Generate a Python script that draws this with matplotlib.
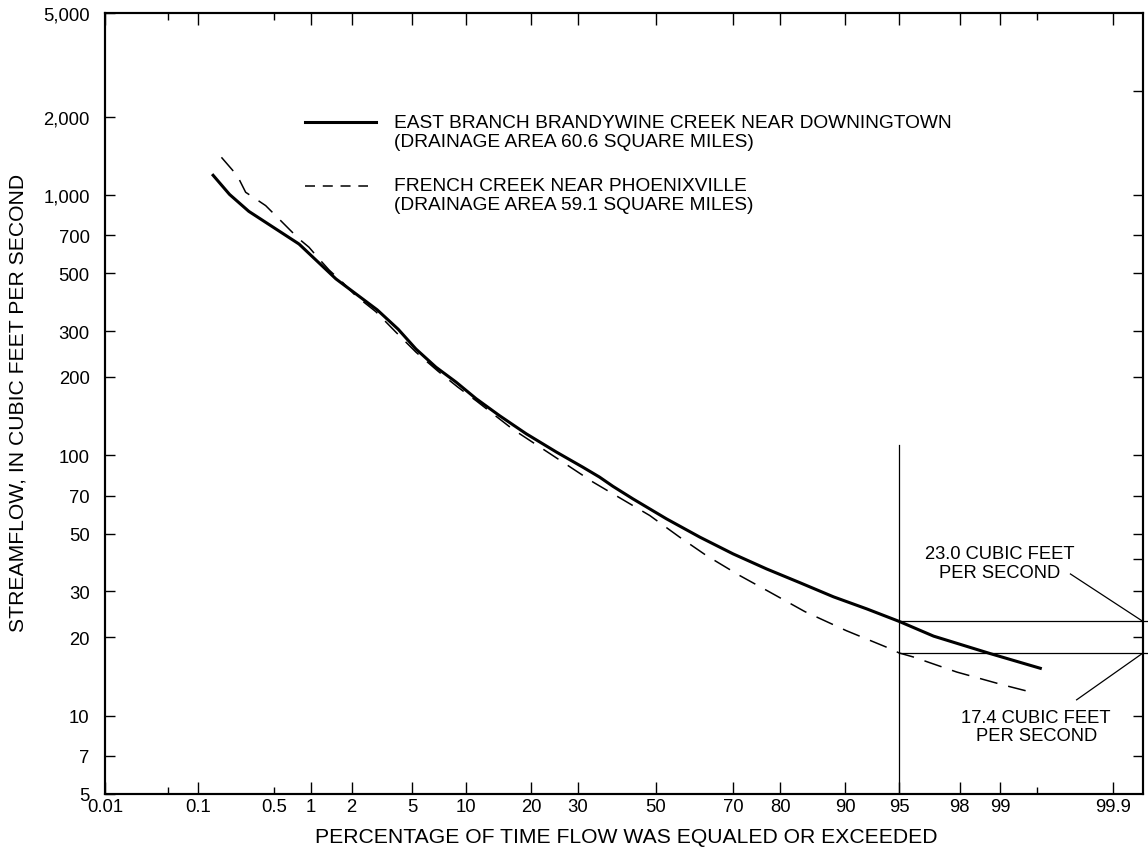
import math

import numpy as np
import matplotlib

matplotlib.use("Agg")
import matplotlib.pyplot as plt
from matplotlib.ticker import FixedLocator, FixedFormatter, NullLocator


# percent of time flow equaled or exceeded, streamflow in cubic feet per second
EAST_PCT = [0.14, 0.20, 0.30, 0.80, 1.54, 3.0, 4.1, 5.27, 6.89, 8.88,
            11.26, 14.57, 19.08, 25.08, 31.14, 35.2, 38.63, 43.9, 52.9,
            61.7, 69.95, 77.3, 83.5, 88.5, 92.3, 95.0, 96.97, 98.81, 99.53]
EAST_FLOW = [1190, 1005, 865, 648, 476, 362, 305, 256, 218, 191,
             165, 142, 121, 103, 90, 82.5, 76.0, 68.0, 57.0,
             48.5, 41.8, 36.6, 32.4, 28.6, 25.7, 23.0, 20.2, 17.3, 15.2]

FRENCH_PCT = [0.168, 0.236, 0.281, 0.345, 0.422, 0.548, 0.664, 0.80, 0.96,
              1.15, 1.37, 1.72, 2.14, 2.94, 3.97, 5.27, 7.04, 9.05, 11.26,
              16.7, 24.35, 33.6, 48.4, 56.4, 63.4, 71.5, 77.97, 84.3, 90.1,
              94.07, 95.0, 95.9, 97.9, 99.06, 99.48]
FRENCH_FLOW = [1395, 1186, 1024, 966, 910, 809, 740, 678, 630,
               568, 515, 462, 410, 356, 297, 249, 211, 183, 162,
               126, 99.8, 78.9, 58.7, 48.5, 41.2, 34.5, 29.8, 25.1, 21.2,
               18.3, 17.4, 16.8, 14.7, 13.1, 12.2]

X_MAJOR = [0.01, 0.1, 1, 2, 5, 10, 20, 30, 50, 70, 80, 90, 95, 98, 99, 99.9]
X_MAJOR_LABELS = ["0.01", "0.1", "1", "2", "5", "10", "20", "30", "50",
                  "70", "80", "90", "95", "98", "99", "99.9"]
X_MINOR = [0.05, 0.5, 99.5]
X_MINOR_LABELS = ["", "0.5", ""]

Y_TICKS = [5, 7, 10, 20, 30, 50, 70, 100, 200, 300, 500, 700,
           1000, 2000, 5000]
Y_LABELS = ["5", "7", "10", "20", "30", "50", "70", "100", "200", "300",
            "500", "700", "1,000", "2,000", "5,000"]
RIGHT_TICKS = [7, 10, 20, 30, 40, 50, 70, 100, 200, 300, 500, 700,
               1000, 2500]

EAST_Q95 = 23.0
FRENCH_Q95 = 17.4

FONT = ["Liberation Sans", "DejaVu Sans"]


A = [-3.969683028665376e+01, 2.209460984245205e+02, -2.759285104469687e+02,
     1.383577518672690e+02, -3.066479806614716e+01, 2.506628277459239e+00]
B = [-5.447609879822406e+01, 1.615858368580409e+02, -1.556989798598866e+02,
     6.680131188771972e+01, -1.328068155288572e+01]
C = [-7.784894002430293e-03, -3.223964580411365e-01, -2.400758277161838e+00,
     -2.549671348440397e+00, 4.374664141464968e+00, 2.938163982698783e+00]
D = [7.784695709041462e-03, 3.224671290700398e-01, 2.445134137142996e+00,
     3.754408661907416e+00]


def norm_ppf(p):
    p = np.asarray(p, dtype=float)
    q = p - 0.5
    r = q * q
    central = ((((((A[0] * r + A[1]) * r + A[2]) * r + A[3]) * r + A[4]) * r
                + A[5]) * q
               / (((((B[0] * r + B[1]) * r + B[2]) * r + B[3]) * r + B[4])
                  * r + 1))
    t = np.sqrt(-2 * np.log(np.minimum(p, 1 - p)))
    tail = ((((((C[0] * t + C[1]) * t + C[2]) * t + C[3]) * t + C[4]) * t
             + C[5])
            / ((((D[0] * t + D[1]) * t + D[2]) * t + D[3]) * t + 1))
    tail = np.where(p < 0.5, tail, -tail)
    return np.where(np.abs(q) <= 0.5 - 0.02425, central, tail)


_erf = np.vectorize(math.erf)


def pct_to_z(pct):
    p = np.clip(np.asarray(pct, dtype=float) / 100.0, 1e-12, 1 - 1e-12)
    return norm_ppf(p)


def z_to_pct(z):
    z = np.asarray(z, dtype=float)
    return 50.0 * (1 + _erf(z / math.sqrt(2)))


def plot_chart():

    plt.rcParams["font.family"] = FONT
    plt.rcParams["lines.scale_dashes"] = False

    fig = plt.figure(figsize=(11.48, 8.54), dpi=100)
    ax = fig.add_axes([0.09146, 0.06909, 0.90418, 0.91452])

    ax.set_xscale("function", functions=(pct_to_z, z_to_pct))
    ax.set_yscale("log")
    ax.set_xlim(0.01, 99.95)
    ax.set_ylim(5, 5000)

    ax.plot(EAST_PCT, EAST_FLOW, color="black", lw=2.2,
            solid_joinstyle="round", zorder=3)
    ax.plot(FRENCH_PCT, FRENCH_FLOW, color="black", lw=1.1,
            dashes=(13, 8), zorder=3)

    # reference lines at 95 percent
    ax.plot([95, 95], [5, 110], color="black", lw=0.9, zorder=2)
    ax.plot([95, 99.956], [EAST_Q95, EAST_Q95], color="black", lw=0.9,
            clip_on=False, zorder=2)
    ax.plot([95, 99.956], [FRENCH_Q95, FRENCH_Q95], color="black", lw=0.9,
            clip_on=False, zorder=2)

    # leaders and notes
    ax.plot([99.745, 99.95], [35.0, EAST_Q95], color="black", lw=0.9,
            clip_on=False)
    ax.plot([99.776, 99.95], [11.5, FRENCH_Q95], color="black", lw=0.9,
            clip_on=False)
    ax.text(98.99, 38.6, "23.0 CUBIC FEET\nPER SECOND", fontsize=13.2,
            ha="center", va="center", multialignment="center",
            linespacing=1.15)
    ax.text(99.49, 9.1, "17.4 CUBIC FEET\nPER SECOND", fontsize=13.2,
            ha="center", va="center", multialignment="center",
            linespacing=1.1)

    # key
    ax.plot([0.1927, 0.2611], [0.8604, 0.8604], color="black", lw=2.2,
            transform=ax.transAxes)
    ax.plot([0.1927, 0.2534], [0.7785, 0.7785], color="black", lw=1.1,
            dashes=(7.2, 5.6), transform=ax.transAxes)
    ax.text(0.2784, 0.8604, "EAST BRANCH BRANDYWINE CREEK NEAR DOWNINGTOWN",
            fontsize=13.8, va="center", transform=ax.transAxes)
    ax.text(0.2784, 0.8361, "(DRAINAGE AREA 60.6 SQUARE MILES)",
            fontsize=13.8, va="center", transform=ax.transAxes)
    ax.text(0.2784, 0.7785, "FRENCH CREEK NEAR PHOENIXVILLE",
            fontsize=13.8, va="center", transform=ax.transAxes)
    ax.text(0.2784, 0.7542, "(DRAINAGE AREA 59.1 SQUARE MILES)",
            fontsize=13.8, va="center", transform=ax.transAxes)

    ax.xaxis.set_major_locator(FixedLocator(X_MAJOR))
    ax.xaxis.set_major_formatter(FixedFormatter(X_MAJOR_LABELS))
    ax.xaxis.set_minor_locator(FixedLocator(X_MINOR))
    ax.xaxis.set_minor_formatter(FixedFormatter(X_MINOR_LABELS))

    ax.yaxis.set_major_locator(FixedLocator(Y_TICKS))
    ax.yaxis.set_major_formatter(FixedFormatter(Y_LABELS))
    ax.yaxis.set_minor_locator(NullLocator())

    ax.tick_params(axis="x", which="both", direction="in", top=True,
                   labelsize=13.3, pad=3, width=1.0)
    ax.tick_params(axis="x", which="major", length=8.5)
    ax.tick_params(axis="x", which="minor", length=4.7)
    ax.tick_params(axis="y", which="major", direction="in", right=False,
                   length=7.2, width=1.0, labelsize=13.3, pad=11)

    ax2 = ax.twinx()
    ax2.set_yscale("log")
    ax2.set_ylim(5, 5000)
    ax2.yaxis.set_major_locator(FixedLocator(RIGHT_TICKS))
    ax2.yaxis.set_minor_locator(NullLocator())
    ax2.tick_params(axis="y", which="major", direction="in", length=7.2,
                    width=1.0, labelright=False)

    for a in (ax, ax2):
        for spine in a.spines.values():
            spine.set_linewidth(1.5)

    fig.text(18 / 1148, 1 - 402.5 / 854,
             "STREAMFLOW, IN CUBIC FEET PER SECOND", fontsize=15.2,
             rotation=90, ha="center", va="center")
    fig.text(626.5 / 1148, 1 - 838 / 854,
             "PERCENTAGE OF TIME FLOW WAS EQUALED OR EXCEEDED",
             fontsize=15.2, ha="center", va="center")

    fig.savefig("out.png", dpi=100)


def main():
    plot_chart()


if __name__ == "__main__":
    main()
